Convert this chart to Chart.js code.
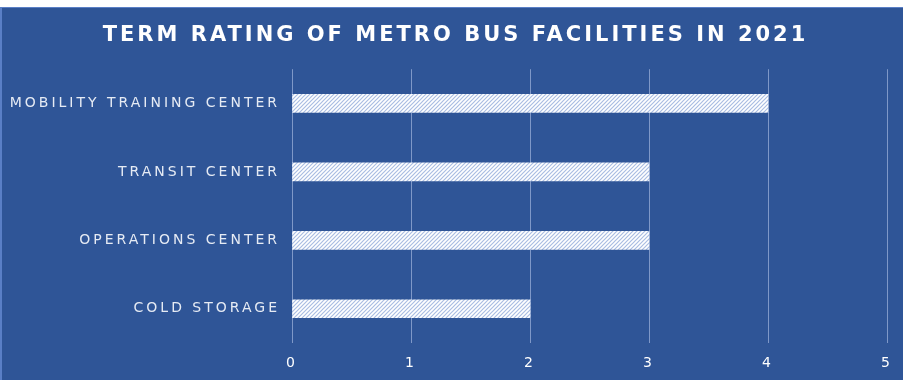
<!DOCTYPE html>
<html><head><meta charset="utf-8">
<script src="https://cdn.jsdelivr.net/npm/chart.js@4/dist/chart.umd.min.js"></script>
<style>html,body{margin:0;padding:0;background:#fff;}canvas{display:block;}</style>
</head><body>
<canvas id="c" width="903" height="380"></canvas>
<script>
const categories = ["MOBILITY TRAINING CENTER", "TRANSIT CENTER", "OPERATIONS CENTER", "COLD STORAGE"];
const ratings = [4, 3, 3, 2];
const xTicks = [0, 1, 2, 3, 4, 5];
const titleText = "TERM RATING OF METRO BUS FACILITIES IN 2021";
const FONT = "'DejaVu Sans', Verdana, sans-serif";

function makePattern() {
  const p = document.createElement('canvas');
  p.width = 4; p.height = 4;
  const g = p.getContext('2d');
  g.fillStyle = '#ffffff';
  g.fillRect(0, 0, 4, 4);
  g.strokeStyle = '#a9bde2';
  g.lineWidth = 1.2;
  g.beginPath();
  g.moveTo(-1, 5); g.lineTo(5, -1);
  g.moveTo(-1, 1); g.lineTo(1, -1);
  g.moveTo(3, 5); g.lineTo(5, 3);
  g.stroke();
  return document.getElementById('c').getContext('2d').createPattern(p, 'repeat');
}

const spacing = {
  id: 'spacing',
  beforeLayout(chart) { chart.ctx.letterSpacing = '3px'; },
  beforeDraw(chart) {
    const ctx = chart.ctx;
    ctx.save();
    ctx.fillStyle = '#ffffff';
    ctx.fillRect(0, 0, chart.width, chart.height);
    ctx.fillStyle = '#5a7fc6';
    ctx.fillRect(0, 7, chart.width, chart.height - 7);
    ctx.fillStyle = '#2f5597';
    ctx.fillRect(2, 8, chart.width - 2, chart.height - 8);
    ctx.restore();
    ctx.letterSpacing = '3px';
  },
  beforeDatasetsDraw(chart) { chart.ctx.letterSpacing = '3px'; }
};

const titleSpacing = {
  id: 'titleSpacing',
  beforeDraw(chart) { chart.ctx.letterSpacing = '3.25px'; },
  afterDraw(chart) { chart.ctx.letterSpacing = '3px'; }
};

new Chart(document.getElementById('c'), {
  type: 'bar',
  data: {
    labels: categories,
    datasets: [{
      data: ratings,
      backgroundColor: makePattern(),
      borderWidth: 0,
      barThickness: 18
    }]
  },
  options: {
    indexAxis: 'y',
    responsive: false,
    animation: false,
    devicePixelRatio: 1,
    layout: { padding: { top: 8, right: 0, left: 8, bottom: 0 } },
    plugins: {
      legend: { display: false },
      tooltip: { enabled: false },
      title: {
        display: true,
        text: titleText,
        color: '#ffffff',
        font: { family: FONT, size: 21, weight: 'bold', lineHeight: 1.2 },
        padding: { top: 15, bottom: 21 }
      }
    },
    scales: {
      x: {
        min: 0, max: 5,
        afterBuildTicks(s) { s.ticks = xTicks.map(v => ({ value: v })); },
        grid: { color: '#7f98c8', lineWidth: 1, drawTicks: false },
        border: { display: false },
        ticks: { color: '#ffffff', padding: 12, font: { family: FONT, size: 14 } },
        afterFit(s) { s.height = 37; s.paddingRight = 16; s.paddingLeft = 0; }
      },
      y: {
        grid: { display: false, drawTicks: false },
        border: { display: false },
        ticks: { color: '#e6ebf4', padding: 12, font: { family: FONT, size: 14 } },
        afterFit(s) { s.width = 284; }
      }
    }
  },
  plugins: [spacing]
});
</script>
</body></html>
